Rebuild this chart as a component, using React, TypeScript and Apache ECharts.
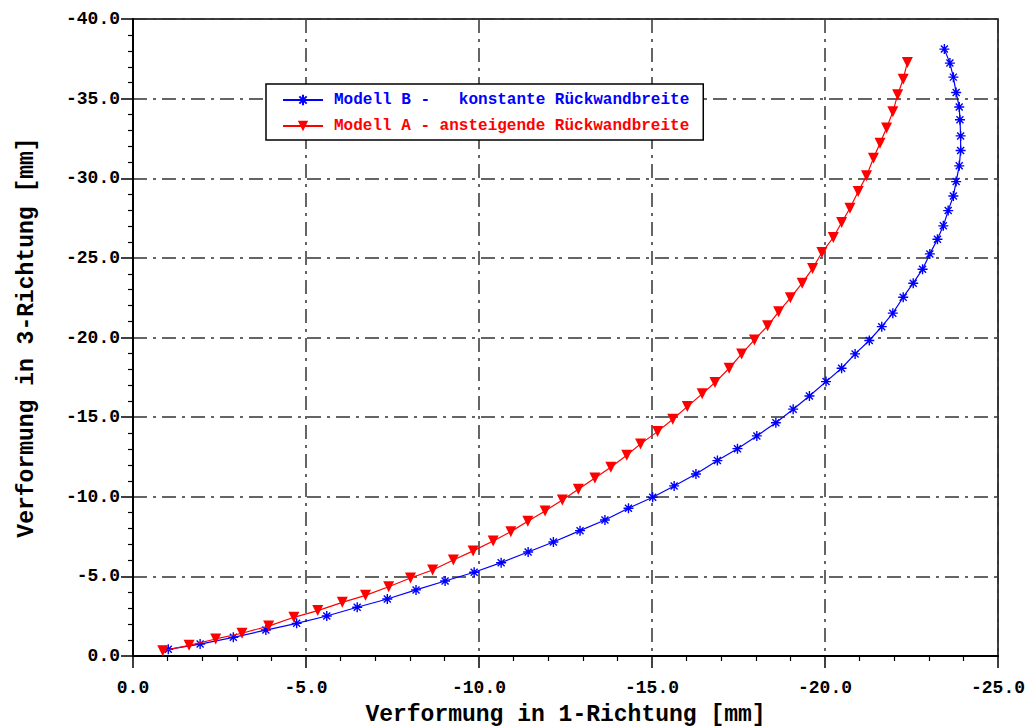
import React, { useEffect, useRef } from "react";
import * as echarts from "echarts";

// Verformung in 1-Richtung [mm] (x) and 3-Richtung [mm] (y) per load step
const modellBX = [
  -1.02, -1.94, -2.9, -3.84, -4.73, -5.6, -6.48, -7.35, -8.18, -9.02,
  -9.86, -10.64, -11.42, -12.15, -12.92, -13.64, -14.32, -15.02, -15.64, -16.27,
  -16.89, -17.47, -18.03, -18.58, -19.08, -19.55, -20.03, -20.48, -20.87, -21.28,
  -21.64, -21.96, -22.26, -22.55, -22.82, -23.03, -23.25, -23.42, -23.56, -23.71,
  -23.79, -23.88, -23.92, -23.92, -23.9, -23.88, -23.79, -23.71, -23.61, -23.45,
];
const modellBY = [
  -0.42, -0.75, -1.17, -1.63, -2.05, -2.51, -3.06, -3.58, -4.15, -4.71,
  -5.26, -5.86, -6.53, -7.16, -7.87, -8.54, -9.28, -9.97, -10.68, -11.43,
  -12.27, -13.02, -13.82, -14.65, -15.5, -16.33, -17.23, -18.07, -18.97, -19.81,
  -20.68, -21.53, -22.53, -23.41, -24.29, -25.25, -26.17, -27.01, -27.97, -28.89,
  -29.79, -30.78, -31.74, -32.66, -33.67, -34.47, -35.38, -36.35, -37.23, -38.11,
];
const modellAX = [
  -0.86, -1.62, -2.39, -3.15, -3.92, -4.65, -5.34, -6.05, -6.72, -7.39,
  -8.02, -8.66, -9.26, -9.83, -10.41, -10.92, -11.41, -11.91, -12.41, -12.87,
  -13.35, -13.81, -14.27, -14.67, -15.16, -15.6, -16.02, -16.45, -16.82, -17.23,
  -17.59, -17.96, -18.34, -18.66, -19.0, -19.34, -19.64, -19.91, -20.24, -20.48,
  -20.72, -20.96, -21.2, -21.4, -21.59, -21.78, -21.96, -22.1, -22.26, -22.38,
];
const modellAY = [
  -0.33, -0.67, -1.07, -1.43, -1.88, -2.43, -2.85, -3.37, -3.81, -4.35,
  -4.9, -5.4, -6.03, -6.6, -7.22, -7.81, -8.46, -9.11, -9.8, -10.47,
  -11.18, -11.85, -12.61, -13.32, -14.09, -14.87, -15.66, -16.46, -17.17, -18.07,
  -18.97, -19.85, -20.73, -21.61, -22.49, -23.41, -24.33, -25.33, -26.28, -27.22,
  -28.12, -29.17, -30.15, -31.26, -32.2, -33.15, -34.17, -35.24, -36.22, -37.27,
];

const nameB = "Modell B -   konstante Rückwandbreite";
const nameA = "Modell A - ansteigende Rückwandbreite";
const xTitle = "Verformung in 1-Richtung [mm]";
const yTitle = "Verformung in 3-Richtung [mm]";

const FONT = "Liberation Mono";
const ASTERISK = "path://M5,0L5,10M0,5L10,5M1.5,1.5L8.5,8.5M1.5,8.5L8.5,1.5";

const pairs = (xs: number[], ys: number[]) => xs.map((x, i) => [x, ys[i]]);

const gridLine = {
  show: true,
  lineStyle: { color: "#333", width: 1.5, type: [14, 6, 3, 6] as number[] },
};

export default function App() {
  const ref = useRef<HTMLDivElement>(null);

  useEffect(() => {
    document.body.style.margin = "0";
    const chart = echarts.init(ref.current!, null, { renderer: "svg" });
    chart.setOption({
      animation: false,
      backgroundColor: "#fff",
      grid: {
        left: 133,
        right: 36,
        top: 19,
        bottom: 72,
        outerBoundsMode: "none",
        containLabel: false,
        show: true,
        borderColor: "#000",
        borderWidth: 1.5,
        backgroundColor: "transparent",
      },
      legend: {
        orient: "vertical",
        left: 266,
        top: 84,
        itemWidth: 40,
        itemHeight: 13,
        itemGap: 10,
        padding: [8, 14, 6, 16],
        borderColor: "#000",
        borderWidth: 1.5,
        backgroundColor: "#fff",
        textStyle: { fontFamily: FONT, fontWeight: "bold", fontSize: 16, padding: [0, 0, 0, 6] },
        data: [
          { name: nameB, textStyle: { color: "#0000ff" } },
          { name: nameA, textStyle: { color: "#ff0000" } },
        ],
      },
      xAxis: {
        type: "value",
        min: -25,
        max: 0,
        interval: 5,
        inverse: true,
        name: xTitle,
        nameLocation: "middle",
        nameGap: 47,
        nameTextStyle: { fontFamily: FONT, fontWeight: "bold", fontSize: 23, color: "#000" },
        axisLine: { show: true, onZero: false, lineStyle: { color: "#000", width: 2 } },
        axisTick: { show: true, inside: false, length: 12, lineStyle: { color: "#000", width: 1.5 } },
        minorTick: { show: true, splitNumber: 5, length: 5, lineStyle: { color: "#000", width: 1.2 } },
        axisLabel: {
          margin: 23,
          fontFamily: FONT,
          fontWeight: "bold",
          fontSize: 18,
          color: "#000",
          formatter: (v: number) => v.toFixed(1),
        },
        splitLine: gridLine,
      },
      yAxis: {
        type: "value",
        min: -40,
        max: 0,
        interval: 5,
        inverse: true,
        name: yTitle,
        nameLocation: "middle",
        nameGap: 95,
        nameTextStyle: { fontFamily: FONT, fontWeight: "bold", fontSize: 23, color: "#000" },
        axisLine: { show: true, onZero: false, lineStyle: { color: "#000", width: 2 } },
        axisTick: { show: true, inside: false, length: 12, lineStyle: { color: "#000", width: 1.5 } },
        minorTick: { show: true, splitNumber: 5, length: 5, lineStyle: { color: "#000", width: 1.2 } },
        axisLabel: {
          margin: 13,
          fontFamily: FONT,
          fontWeight: "bold",
          fontSize: 18,
          color: "#000",
          formatter: (v: number) => v.toFixed(1),
        },
        splitLine: gridLine,
      },
      series: [
        {
          name: nameB,
          type: "line",
          data: pairs(modellBX, modellBY),
          symbol: ASTERISK,
          symbolSize: 10,
          showAllSymbol: true,
          lineStyle: { color: "#0000ff", width: 1.2 },
          itemStyle: { color: "#0000ff", borderColor: "#0000ff", borderWidth: 1.4 },
          z: 3,
        },
        {
          name: nameA,
          type: "line",
          data: pairs(modellAX, modellAY),
          symbol: "triangle",
          symbolRotate: 180,
          symbolSize: 11,
          showAllSymbol: true,
          lineStyle: { color: "#ff0000", width: 1.2 },
          itemStyle: { color: "#ff0000", borderWidth: 0 },
          z: 4,
        },
      ],
    });
    return () => chart.dispose();
  }, []);

  return <div ref={ref} style={{ width: 1034, height: 728 }} />;
}
